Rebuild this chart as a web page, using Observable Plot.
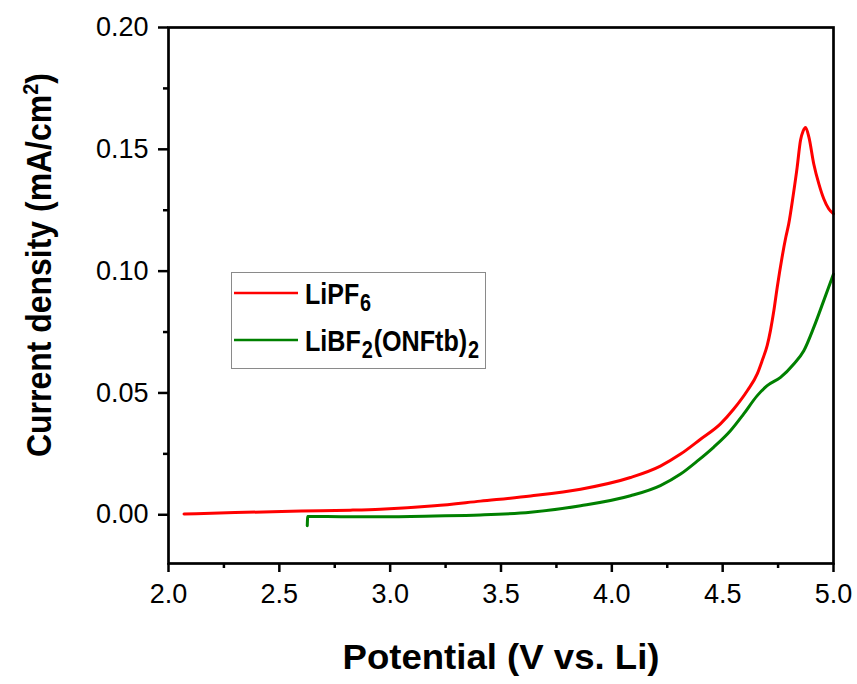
<!DOCTYPE html>
<html>
<head>
<meta charset="utf-8">
<script src="https://cdn.jsdelivr.net/npm/d3@7"></script>
<script src="https://cdn.jsdelivr.net/npm/@observablehq/plot@0.6"></script>
<style>
  html, body { margin: 0; padding: 0; background: #fff; }
  #wrap { position: relative; width: 857px; height: 684px; }
  #legend { position: absolute; left: 231px; top: 272px; }
</style>
</head>
<body>
<div id="wrap"></div>
<script>
// ---- data ----
const seriesNames = ["LiPF6", "LiBF2(ONFtb)2"];
const seriesColors = ["#ff0000", "#008000"];
const legendParts = [
  [["LiPF", false], ["6", true]],
  [["LiBF", false], ["2", true], ["(ONFtb)", false], ["2", true]]
];

const potentialLiPF6 = [2.07, 2.3, 2.6, 2.82, 2.956, 3.2, 3.407, 3.633, 3.859, 4.084, 4.219, 4.31, 4.40, 4.49, 4.55, 4.611, 4.656, 4.678, 4.701, 4.716, 4.731, 4.746, 4.768, 4.785, 4.798, 4.818, 4.836, 4.851, 4.863, 4.874, 4.889, 4.911, 4.934, 4.956, 4.979, 5.0];
const currentLiPF6   = [0.0003, 0.0009, 0.0015, 0.0019, 0.0023, 0.0037, 0.0056, 0.0077, 0.0105, 0.0153, 0.020, 0.0249, 0.031, 0.0373, 0.0434, 0.0509, 0.0578, 0.0632, 0.0695, 0.0758, 0.0838, 0.0933, 0.1057, 0.114, 0.1194, 0.131, 0.1426, 0.1536, 0.1575, 0.159, 0.155, 0.144, 0.1358, 0.1297, 0.1255, 0.1235];

const potentialLiBF2 = [2.626, 2.628, 2.8, 2.956, 3.2, 3.407, 3.633, 3.859, 4.084, 4.219, 4.31, 4.385, 4.46, 4.535, 4.595, 4.656, 4.701, 4.761, 4.821, 4.866, 4.911, 4.956, 5.0];
const currentLiBF2   = [-0.0045, -0.0007, -0.0008, -0.0008, -0.0005, -0.0001, 0.001, 0.0037, 0.0078, 0.012, 0.0167, 0.0220, 0.0278, 0.0345, 0.0414, 0.0489, 0.053, 0.0564, 0.0619, 0.0673, 0.0769, 0.0879, 0.0988];

const xMajorTicks = [2.0, 2.5, 3.0, 3.5, 4.0, 4.5, 5.0];
const xMinorTicks = [2.25, 2.75, 3.25, 3.75, 4.25, 4.75];
const yMajorTicks = [0.00, 0.05, 0.10, 0.15, 0.20];
const yMinorTicks = [0.025, 0.075, 0.125, 0.175];

const xTitle = "Potential (V vs. Li)";
const yTitleParts = [["Current density (mA/cm", false], ["2", true], [")", false]];

// ---- table ----
const rows = [];
potentialLiPF6.forEach((p, i) => rows.push({series: seriesNames[0], potential: p, current: currentLiPF6[i]}));
potentialLiBF2.forEach((p, i) => rows.push({series: seriesNames[1], potential: p, current: currentLiBF2[i]}));

const font = "'Liberation Sans', Arial, Helvetica, sans-serif";

const chart = Plot.plot({
  width: 857,
  height: 684,
  marginLeft: 168,
  marginRight: 24,
  marginTop: 27,
  marginBottom: 121,
  style: {fontFamily: font, fontSize: "27px", background: "#fff", color: "#000"},
  x: {domain: [2, 5]},
  y: {domain: [-0.02, 0.2]},
  color: {domain: seriesNames, range: seriesColors},
  marks: [
    Plot.line(rows, {x: "potential", y: "current", z: "series", stroke: "series", strokeWidth: 3, curve: "monotone-x"}),
    Plot.frame({stroke: "#000", strokeWidth: 2.7}),
    Plot.axisX({ticks: xMajorTicks, tickSize: 9, tickPadding: 11, tickFormat: d3.format(".1f"), strokeWidth: 2.5, label: null, fontSize: 27}),
    Plot.axisX({ticks: xMinorTicks, tickSize: 5, tickFormat: () => "", strokeWidth: 2.5, label: null}),
    Plot.axisY({ticks: yMajorTicks, tickSize: 10, tickPadding: 10, tickFormat: d3.format(".2f"), strokeWidth: 2.5, label: null, fontSize: 27}),
    Plot.axisY({ticks: yMinorTicks, tickSize: 5, tickFormat: () => "", strokeWidth: 2.5, label: null})
  ]
});

const svg = d3.select(chart);
// axis titles
svg.append("text")
  .attr("x", 501).attr("y", 669)
  .attr("text-anchor", "middle")
  .attr("font-family", font).attr("font-weight", "bold").attr("font-size", 35)
  .attr("textLength", 317).attr("lengthAdjust", "spacingAndGlyphs")
  .attr("fill", "#000")
  .text(xTitle);

const yt = svg.append("text")
  .attr("transform", "translate(51,265) rotate(-90)")
  .attr("text-anchor", "middle")
  .attr("font-family", font).attr("font-weight", "bold").attr("font-size", 35)
  .attr("textLength", 384).attr("lengthAdjust", "spacingAndGlyphs")
  .attr("fill", "#000");
let shift = 0;
yTitleParts.forEach(([t, sup]) => {
  const ts = yt.append("tspan").text(t);
  if (sup) { ts.attr("dy", -13).attr("font-size", 22); shift = 13; }
  else if (shift) { ts.attr("dy", shift); shift = 0; }
});

document.getElementById("wrap").appendChild(chart);

// ---- legend ----
const lg = d3.select("#wrap").append("svg").attr("id", "legend")
  .attr("width", 256).attr("height", 98);
lg.append("rect").attr("x", 0.5).attr("y", 0.5).attr("width", 254).attr("height", 96)
  .attr("fill", "#fff").attr("stroke", "#8a8a8a").attr("stroke-width", 1);
const rowY = [21, 68];
const textLens = [67, 175];
seriesNames.forEach((name, i) => {
  lg.append("line").attr("x1", 3).attr("x2", 67).attr("y1", rowY[i]).attr("y2", rowY[i])
    .attr("stroke", seriesColors[i]).attr("stroke-width", 2.5);
  const baseY = rowY[i] + 11;
  const g = lg.append("g");
  let x = 0;
  legendParts[i].forEach(([txt, sub]) => {
    const el = g.append("text")
      .attr("x", x)
      .attr("y", sub ? baseY + 7 : baseY)
      .attr("font-family", font).attr("font-weight", "bold")
      .attr("font-size", sub ? 23 : 29)
      .attr("fill", "#000")
      .text(txt);
    x += el.node().getComputedTextLength() + 1;
  });
  const k = textLens[i] / x;
  g.attr("transform", `translate(74,0) scale(${k},1)`);
});
</script>
</body>
</html>
